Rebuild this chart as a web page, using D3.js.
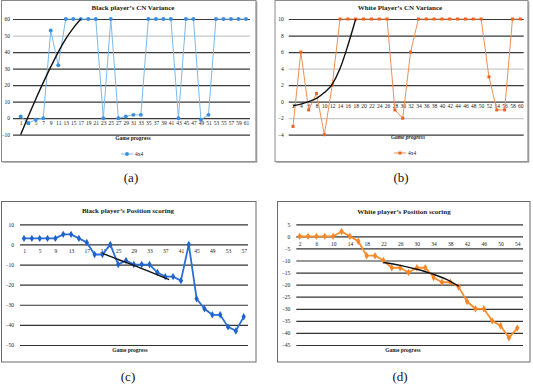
<!DOCTYPE html>
<html>
<head>
<meta charset="utf-8">
<script src="https://cdn.jsdelivr.net/npm/d3@7"></script>
<style>
  body { margin: 0; background: #fff; }
  svg { display: block; font-family: "Liberation Serif", "DejaVu Serif", serif; }
</style>
</head>
<body>
<svg id="fig" width="533" height="385"></svg>
<script>
// (a) black player CN variance
var gamesA = [1,3,5,7,9,11,13,15,17,19,21,23,25,27,29,31,33,35,37,39,41,43,45,47,49,51,53,55,57,59,61];
var valuesA = [1,-3,-1,0,53,32,60,60,60,60,60,0,60,0,1,2,2,60,60,60,60,0,60,60,-1,2,60,60,60,60,60];
var trendGamesA = [1,3,5,7,9,11,13,15,17];
var trendA = [-10,1,11.5,21.5,31,40,48,54.5,60];
var ticksYA = [-10,0,10,20,30,40,50,60];

// (b) white player CN variance
var gamesB = [2,4,6,8,10,12,14,16,18,20,22,24,26,28,30,32,34,36,38,40,42,44,46,48,50,52,54,56,58,60];
var valuesB = [-3,6,-1,1,-4,2,10,10,10,10,10,10,10,-1,-2,6,10,10,10,10,10,10,10,10,10,3,-1,-1,10,10];
var trendGamesB = [2,4,6,8,10,12,14,16,18];
var trendB = [-0.5,-0.3,0,0.4,1.1,2.1,4,6.8,10];
var ticksYB = [-4,-2,0,2,4,6,8,10];

// (c) black player position scoring
var gamesC = [1,3,5,7,9,11,13,15,17,19,21,23,25,27,29,31,33,35,37,39,41,43,45,47,49,51,53,55,57];
var valuesC = [3,3,3,3,3,5,5,3,1,-5,-5,0,-10,-8,-10,-10,-10,-14,-16,-16,-18,0,-27,-32,-35,-35,-41,-43,-36];
var trendGamesC = [21,25,29,33,38];
var trendC = [-4.4,-7.5,-10.4,-13.5,-17.5];
var ticksYC = [-50,-40,-30,-20,-10,0,10];

// (d) white player position scoring
var gamesD = [2,4,6,8,10,12,14,16,18,20,22,24,26,28,30,32,34,36,38,40,42,44,46,48,50,52,54];
var valuesD = [0,0,0,0,0,2,0,-2,-8,-8,-10,-13,-13,-15,-13,-13,-17,-19,-19,-21,-27,-30,-30,-35,-37,-42,-38];
var trendGamesD = [22,26,30,34,38,40];
var trendD = [-10.8,-12,-13.6,-15.7,-18.6,-20.6];
var ticksYD = [-45,-40,-35,-30,-25,-20,-15,-10,-5,0,5];

var svg = d3.select("#fig");

function drawPanel(p) {
  var g = svg.append("g");

  // frame
  g.append("rect")
    .attr("x", p.box[0]).attr("y", p.box[1])
    .attr("width", p.box[2]).attr("height", p.box[3])
    .attr("fill", "#fff")
    .attr("stroke", p.frame)
    .attr("stroke-width", 1);
  if (p.shadow) {
    g.append("path")
      .attr("d", "M" + (p.box[0] + 1) + "," + (p.box[1] + p.box[3] + 0.5) +
                 "H" + (p.box[0] + p.box[2] + 0.5) + "V" + (p.box[1] + 1))
      .attr("fill", "none").attr("stroke", "#9a9a9a").attr("stroke-width", 1.6);
  }

  var x = d3.scalePoint().domain(p.games).range(p.xr);
  var y = d3.scaleLinear().domain(p.yd).range(p.yr);

  // gridlines + y labels
  var yAxis = d3.axisLeft(y).tickValues(p.ticksY).tickSize(-(p.gx[1] - p.gx[0])).tickPadding(p.pad);
  var ya = g.append("g")
    .attr("transform", "translate(" + p.gx[0] + ",0)")
    .call(yAxis);
  ya.select(".domain").remove();
  ya.selectAll("line").attr("stroke-width", 1.2)
    .attr("stroke", function(d) { return (p.lightTicks.indexOf(d) >= 0) ? "#c8c8c8" : p.grid; });
  ya.selectAll("text").attr("font-size", 5.5).attr("fill", "#222")
    .attr("font-family", "Liberation Serif");

  // x category labels
  var xa = g.append("g")
    .attr("transform", "translate(0," + p.xlabY + ")")
    .call(d3.axisBottom(x).tickValues(p.games.filter(function(d, i) { return i % p.every == 0; }))
      .tickSize(0).tickPadding(0));
  xa.select(".domain").remove();
  xa.selectAll("text").attr("font-size", 5.5).attr("fill", "#222")
    .attr("font-family", "Liberation Serif");

  // title + axis title
  g.append("text").attr("x", p.title[1]).attr("y", p.title[2])
    .attr("text-anchor", "middle").attr("font-size", 7).attr("font-weight", "bold")
    .attr("fill", "#222").text(p.title[0]);
  g.append("text").attr("x", p.axTitle[0]).attr("y", p.axTitle[1])
    .attr("text-anchor", "middle").attr("font-size", 5.5).attr("font-weight", "bold")
    .attr("font-style", p.italic ? "italic" : "normal")
    .attr("fill", "#222").text("Game progress");

  // series line
  var line = d3.line()
    .x(function(d, i) { return x(p.games[i]); })
    .y(function(d) { return y(d); });
  g.append("path").datum(p.values)
    .attr("fill", "none").attr("stroke", p.lineColor)
    .attr("stroke-width", p.lw).attr("d", line);

  var sym = d3.symbol().type(p.symbol).size(p.symSize);
  g.selectAll(".pt").data(p.values).enter().append("path")
    .attr("transform", function(d, i) { return "translate(" + x(p.games[i]) + "," + y(d) + ")"; })
    .attr("d", sym)
    .attr("fill", p.dotColor);

  // trendline (trend x values are game numbers, map onto point scale)
  var xl = d3.scaleLinear().domain([p.games[0], p.games[p.games.length - 1]]).range(p.xr);
  var trend = d3.line()
    .x(function(d, i) { return xl(p.trendGames[i]); })
    .y(function(d) { return y(d); })
    .curve(d3.curveMonotoneX);
  g.append("path").datum(p.trend)
    .attr("fill", "none").attr("stroke", "#111")
    .attr("stroke-width", 1.4).attr("d", trend);

  // legend
  if (p.legend) {
    var lg = g.append("g").attr("transform", "translate(" + p.legend[0] + "," + p.legend[1] + ")");
    lg.append("line").attr("x1", 0).attr("x2", 12).attr("y1", 0).attr("y2", 0)
      .attr("stroke", p.lineColor).attr("stroke-width", 1);
    lg.append("path").attr("transform", "translate(6,0)").attr("d", sym).attr("fill", p.dotColor);
    lg.append("text").attr("x", 14).attr("y", 2).attr("font-size", 5.5)
      .attr("fill", "#222").text("4x4");
  }

  // caption
  svg.append("text").attr("x", p.caption[1]).attr("y", p.caption[2])
    .attr("text-anchor", "middle").attr("font-size", 13).attr("fill", "#111")
    .text(p.caption[0]);
}

drawPanel({
  box: [1.5, 0.5, 254.5, 161], frame: "#8a8a8a", shadow: true,
  games: gamesA, values: valuesA, trendGames: trendGamesA, trend: trendA,
  ticksY: ticksYA, lightTicks: [50],
  xr: [20.7, 246], yd: [-10, 60], yr: [134.7, 19], gx: [13, 250], pad: 3,
  xlabY: 121, every: 1, grid: "#3a3a3a",
  title: ["Black player\u2019s  CN Variance", 133, 10],
  axTitle: [133, 139.5], italic: false,
  lineColor: "#7cb9ea", dotColor: "#3a8ee2", lw: 1, symbol: d3.symbolCircle, symSize: 12,
  legend: [121, 154],
  caption: ["(a)", 131, 182]
});

drawPanel({
  box: [275, 0.5, 253, 161], frame: "#8a8a8a", shadow: true,
  games: gamesB, values: valuesB, trendGames: trendGamesB, trend: trendB,
  ticksY: ticksYB, lightTicks: [4, -2],
  xr: [293, 520.3], yd: [-4, 10], yr: [134.7, 19], gx: [288.7, 523.7], pad: 5,
  xlabY: 104, every: 1, grid: "#3a3a3a",
  title: ["White Player\u2019s  CN Variance", 400, 10],
  axTitle: [408, 139], italic: true,
  lineColor: "#ef8f55", dotColor: "#f2601a", lw: 1, symbol: d3.symbolSquare, symSize: 9,
  legend: [394, 153],
  caption: ["(b)", 401, 182]
});

drawPanel({
  box: [1.5, 201.5, 254.5, 160.5], frame: "#6a6a6a", shadow: false,
  games: gamesC, values: valuesC, trendGames: trendGamesC, trend: trendC,
  ticksY: ticksYC, lightTicks: [],
  xr: [24, 243.7], yd: [-50, 10], yr: [345, 224.3], gx: [20, 248], pad: 6,
  xlabY: 249, every: 2, grid: "#333",
  title: ["Black player\u2019s Position  scoring", 128, 213],
  axTitle: [130, 352], italic: false,
  lineColor: "#2a6fd6", dotColor: "#1f62d0", lw: 1.8, symbol: d3.symbolDiamond, symSize: 16,
  legend: null,
  caption: ["(c)", 128, 381]
});

drawPanel({
  box: [277.5, 201.5, 252.5, 160.5], frame: "#6a6a6a", shadow: false,
  games: gamesD, values: valuesD, trendGames: trendGamesD, trend: trendD,
  ticksY: ticksYD, lightTicks: [],
  xr: [299.7, 517.3], yd: [-45, 5], yr: [345, 224.3], gx: [296.3, 523], pad: 6,
  xlabY: 242, every: 2, grid: "#333",
  title: ["White player\u2019s Position  scoring", 404, 214],
  axTitle: [403, 352], italic: false,
  lineColor: "#f7902c", dotColor: "#f7852a", lw: 1.8, symbol: d3.symbolDiamond, symSize: 16,
  legend: null,
  caption: ["(d)", 400, 381]
});
</script>
</body>
</html>
